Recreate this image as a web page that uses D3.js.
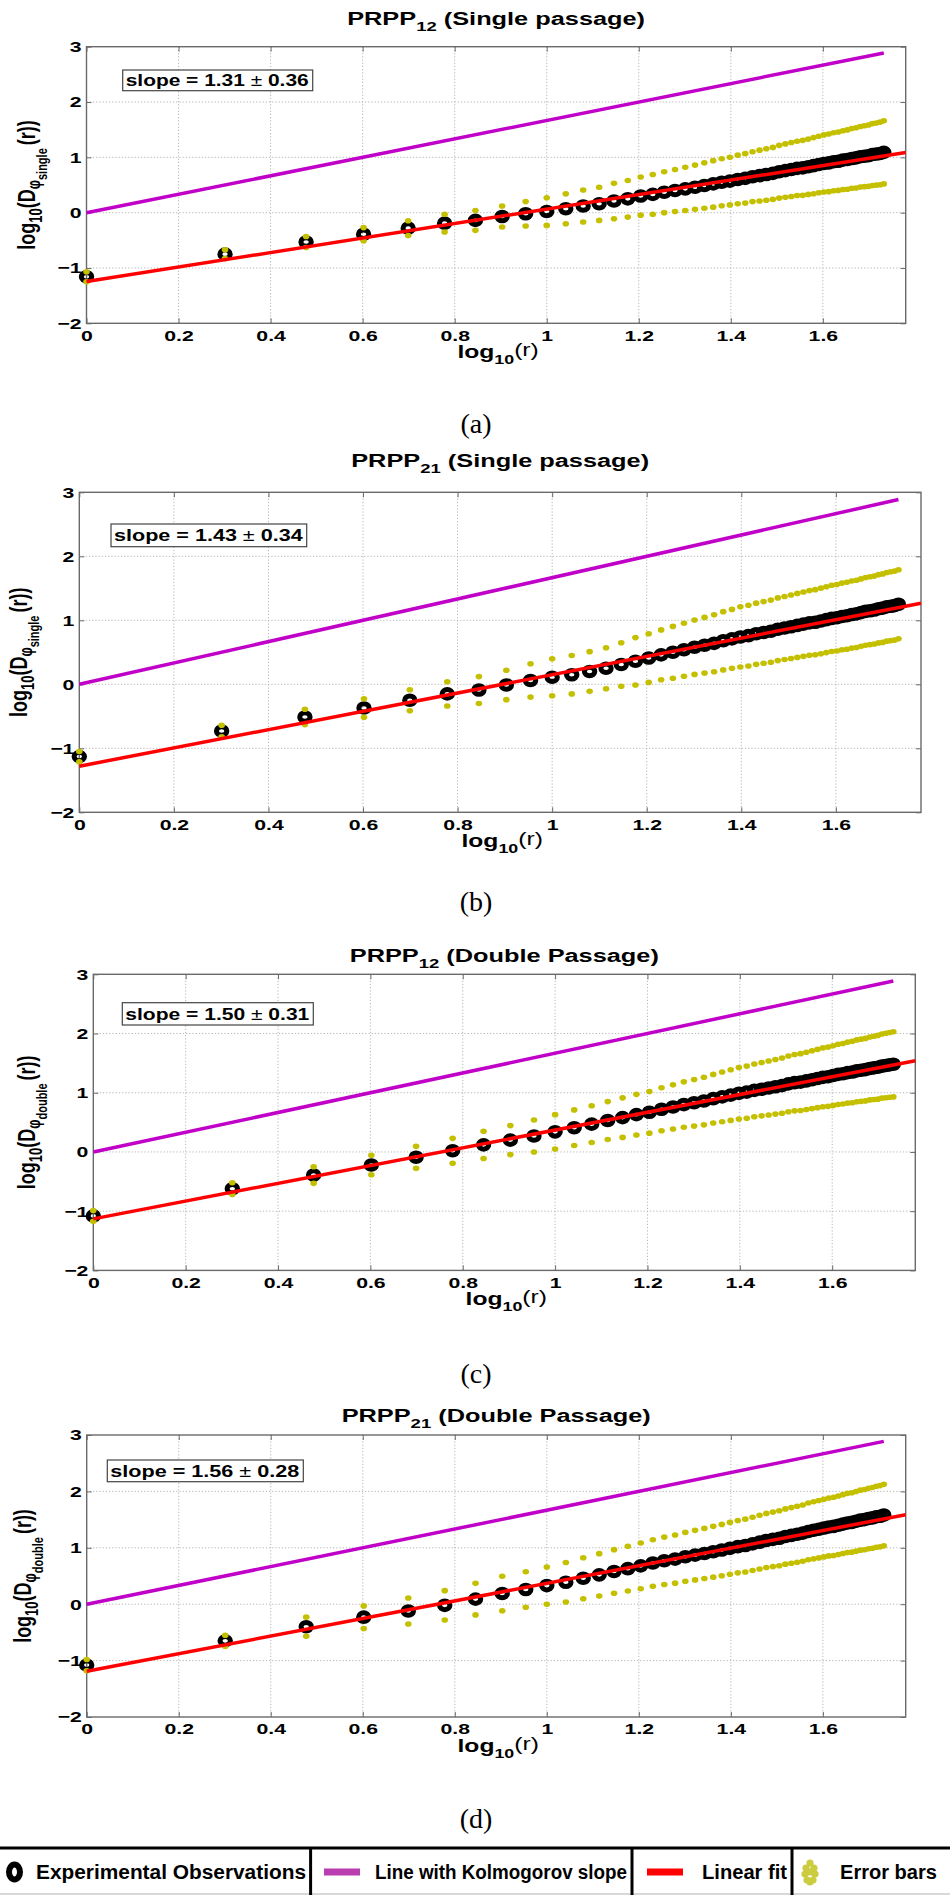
<!DOCTYPE html>
<html>
<head>
<meta charset="utf-8">
<script src="https://cdn.jsdelivr.net/npm/d3@7"></script>
<style>
  body { margin: 0; background: #fff; }
  svg { display: block; }
  text { font-family: "Liberation Sans", Arial, sans-serif; }
</style>
</head>
<body>
<div id="chart"></div>
<script>
// ---------------- data ----------------
// separation r (pixels), plotted as log10(r)
var rValues = d3.range(1, 55);

// panel (a) PRPP12 single passage
var obsA = [-1.16,-0.75,-0.53,-0.39,-0.28,-0.19,-0.14,-0.07,-0.02,0.02,
  0.07,0.12,0.16,0.21,0.25,0.30,0.33,0.37,0.40,0.43,
  0.46,0.49,0.52,0.55,0.57,0.60,0.62,0.65,0.67,0.69,
  0.71,0.74,0.76,0.78,0.80,0.81,0.83,0.85,0.87,0.89,
  0.90,0.92,0.93,0.95,0.96,0.98,0.99,1.01,1.02,1.03,
  1.05,1.06,1.07,1.09];
var errA = [0.09,0.08,0.10,0.12,0.135,0.16,0.18,0.19,0.22,0.25,
  0.27,0.29,0.30,0.32,0.33,0.345,0.36,0.37,0.38,0.39,
  0.40,0.41,0.42,0.425,0.43,0.44,0.447,0.45,0.46,0.466,
  0.47,0.477,0.483,0.487,0.49,0.497,0.50,0.507,0.51,0.516,
  0.52,0.524,0.528,0.532,0.536,0.54,0.544,0.548,0.55,0.555,
  0.56,0.562,0.566,0.57];

// panel (b) PRPP21 single passage
var obsB = [-1.13,-0.73,-0.51,-0.37,-0.25,-0.15,-0.09,-0.01,0.06,0.11,
  0.15,0.20,0.25,0.31,0.36,0.41,0.46,0.50,0.54,0.58,
  0.61,0.64,0.68,0.71,0.74,0.76,0.79,0.81,0.83,0.86,
  0.88,0.90,0.92,0.94,0.96,0.97,0.99,1.01,1.03,1.04,
  1.06,1.07,1.09,1.10,1.12,1.14,1.15,1.16,1.18,1.19,
  1.21,1.22,1.23,1.25];
var errB = [0.08,0.09,0.12,0.145,0.165,0.19,0.21,0.23,0.26,0.29,
  0.30,0.31,0.32,0.34,0.37,0.38,0.39,0.405,0.415,0.425,
  0.435,0.445,0.455,0.46,0.47,0.474,0.478,0.482,0.486,0.49,
  0.493,0.496,0.50,0.503,0.506,0.509,0.512,0.515,0.518,0.52,
  0.521,0.523,0.524,0.526,0.527,0.529,0.53,0.531,0.533,0.535,
  0.536,0.537,0.539,0.54];

// panel (c) PRPP12 double passage
var obsC = [-1.08,-0.62,-0.39,-0.22,-0.09,0.02,0.12,0.20,0.27,0.34,
  0.41,0.47,0.53,0.58,0.63,0.67,0.72,0.76,0.80,0.83,
  0.86,0.90,0.93,0.96,0.99,1.01,1.04,1.06,1.08,1.10,
  1.12,1.15,1.17,1.18,1.20,1.22,1.24,1.26,1.27,1.29,
  1.31,1.32,1.34,1.35,1.37,1.38,1.39,1.41,1.42,1.43,
  1.45,1.46,1.47,1.48];
var errC = [0.09,0.10,0.14,0.165,0.185,0.21,0.23,0.245,0.27,0.29,
  0.30,0.31,0.32,0.334,0.343,0.352,0.363,0.373,0.384,0.393,
  0.402,0.41,0.42,0.427,0.435,0.44,0.446,0.45,0.456,0.461,
  0.466,0.471,0.476,0.48,0.484,0.488,0.492,0.497,0.50,0.504,
  0.508,0.511,0.515,0.518,0.522,0.525,0.528,0.531,0.535,0.538,
  0.541,0.544,0.546,0.55];

// panel (d) PRPP21 double passage
var obsD = [-1.08,-0.65,-0.40,-0.23,-0.12,-0.02,0.09,0.19,0.26,0.33,
  0.39,0.46,0.52,0.58,0.63,0.68,0.73,0.77,0.80,0.84,
  0.87,0.90,0.93,0.96,0.99,1.02,1.04,1.07,1.10,1.13,
  1.15,1.17,1.20,1.22,1.24,1.26,1.29,1.31,1.33,1.35,
  1.37,1.38,1.40,1.42,1.44,1.45,1.47,1.49,1.50,1.52,
  1.53,1.55,1.56,1.58];
var errD = [0.10,0.10,0.17,0.20,0.23,0.26,0.28,0.305,0.315,0.33,
  0.35,0.363,0.376,0.387,0.397,0.406,0.413,0.42,0.427,0.433,
  0.439,0.444,0.45,0.455,0.46,0.464,0.468,0.472,0.476,0.48,
  0.483,0.487,0.49,0.493,0.497,0.50,0.503,0.506,0.509,0.511,
  0.514,0.517,0.519,0.522,0.525,0.527,0.529,0.532,0.534,0.536,
  0.539,0.541,0.543,0.545];

// linear fits and Kolmogorov reference line
var fitIntercepts = [-1.245, -1.28, -1.13, -1.19];
var fitSlopes = [1.31, 1.43, 1.50, 1.56];
var kolmogorovSlope = 5 / 3;

// texts
var titleSubs = ["12", "21", "12", "21"];
var titleRests = [" (Single passage)", " (Single passage)", " (Double Passage)", " (Double Passage)"];
var yLabelSubs = ["single", "single", "double", "double"];
var slopeValues = ["1.31", "1.43", "1.50", "1.56"];
var slopeErrors = ["0.36", "0.34", "0.31", "0.28"];
var captions = ["(a)", "(b)", "(c)", "(d)"];
var legendLabels = ["Experimental Observations", "Line with Kolmogorov slope", "Linear fit", "Error bars"];

var xTicks = [0, 0.2, 0.4, 0.6, 0.8, 1, 1.2, 1.4, 1.6];
var yTicks = [-2, -1, 0, 1, 2, 3];

// ---------------- layout ----------------
var obsSeries = [obsA, obsB, obsC, obsD];
var errSeries = [errA, errB, errC, errD];

var layout = [
  { left: 86.5, right: 905.7, top: 46.7, bottom: 323.3, titleY: 25, yLabelX: 35, captionY: 433, box: [122.7, 70, 190, 20.7] },
  { left: 79.3, right: 921, top: 492.3, bottom: 812.3, titleY: 466.7, yLabelX: 27, captionY: 911, box: [111, 524, 195.7, 22.7] },
  { left: 93.3, right: 915.3, top: 974.3, bottom: 1270.4, titleY: 961.7, yLabelX: 35, captionY: 1383, box: [122.3, 1002.7, 191, 22.3] },
  { left: 86.7, right: 905.7, top: 1435, bottom: 1717, titleY: 1421.7, yLabelX: 31, captionY: 1828, box: [107.3, 1460, 196, 21.7] }
];

var TS = 1.37; // the original figure is stretched horizontally
var MAGENTA = "#c000c8", RED = "#ff0000", YELLOW = "#c4c000";

var svg = d3.select("#chart")
  .append("svg")
  .attr("width", 950)
  .attr("height", 1895);

svg.append("rect").attr("width", 950).attr("height", 1895).attr("fill", "#fff");

layout.forEach(function (p, i) {
  var g = svg.append("g");
  var x = d3.scaleLinear().domain([0, 1.78]).range([p.left, p.right]);
  var y = d3.scaleLinear().domain([-2, 3]).range([p.bottom, p.top]);
  var cx = (p.left + p.right) / 2;

  // grid
  g.append("g").selectAll("line")
    .data(xTicks.slice(1))
    .join("line")
    .attr("x1", function (d) { return x(d); })
    .attr("x2", function (d) { return x(d); })
    .attr("y1", p.top).attr("y2", p.bottom)
    .attr("stroke", "#b4b4b4").attr("stroke-dasharray", "1.2,2");
  g.append("g").selectAll("line")
    .data(yTicks.slice(1, -1))
    .join("line")
    .attr("y1", function (d) { return y(d); })
    .attr("y2", function (d) { return y(d); })
    .attr("x1", p.left).attr("x2", p.right)
    .attr("stroke", "#b4b4b4").attr("stroke-dasharray", "1.2,2");

  // axes (inward ticks on all four sides)
  var bottomAxis = g.append("g")
    .attr("transform", "translate(0," + p.bottom + ")")
    .call(d3.axisBottom(x).tickValues(xTicks).tickSizeInner(-5).tickSizeOuter(0).tickPadding(6.5).tickFormat(d3.format("~g")));
  var leftAxis = g.append("g")
    .attr("transform", "translate(" + p.left + ",0)")
    .call(d3.axisLeft(y).tickValues(yTicks).tickSizeInner(-5).tickSizeOuter(0).tickPadding(3.6).tickFormat(d3.format("~g")));
  g.append("g")
    .attr("transform", "translate(0," + p.top + ")")
    .call(d3.axisTop(x).tickValues(xTicks).tickSizeInner(-5).tickSizeOuter(0).tickFormat(""));
  g.append("g")
    .attr("transform", "translate(" + p.right + ",0)")
    .call(d3.axisRight(y).tickValues(yTicks).tickSizeInner(-5).tickSizeOuter(0).tickFormat(""));
  g.selectAll(".domain").remove();
  g.selectAll(".tick line").attr("stroke", "#6a6a6a");
  [bottomAxis, leftAxis].forEach(function (ax) {
    ax.selectAll("text")
      .attr("fill", "#000")
      .style("font-size", "15.5px")
      .style("font-weight", "bold")
      .style("font-family", "'Liberation Sans', Arial, sans-serif")
      .attr("transform", "scale(" + TS + ",1)");
  });

  g.append("rect")
    .attr("x", p.left).attr("y", p.top)
    .attr("width", p.right - p.left).attr("height", p.bottom - p.top)
    .attr("fill", "none").attr("stroke", "#6a6a6a").attr("stroke-width", 1.4);

  // observations (rings)
  var obs = obsSeries[i], err = errSeries[i];
  g.append("g").selectAll("ellipse")
    .data(rValues)
    .join("ellipse")
    .attr("cx", function (r) { return x(Math.log10(r)); })
    .attr("cy", function (r, k) { return y(obs[k]); })
    .attr("rx", 5.2).attr("ry", 4.3)
    .attr("fill", "none").attr("stroke", "#000").attr("stroke-width", 5);

  // error bars (upper and lower dots)
  var errG = g.append("g").attr("fill", YELLOW);
  [1, -1].forEach(function (sgn) {
    errG.append("g").selectAll("ellipse")
      .data(rValues)
      .join("ellipse")
      .attr("cx", function (r) { return x(Math.log10(r)); })
      .attr("cy", function (r, k) { return y(obs[k] + sgn * err[k]); })
      .attr("rx", 3.3).attr("ry", 2.8);
  });

  // Kolmogorov line
  var xEnd = Math.log10(rValues[rValues.length - 1]);
  g.append("line")
    .attr("x1", x(0)).attr("y1", y(0))
    .attr("x2", x(xEnd)).attr("y2", y(kolmogorovSlope * xEnd))
    .attr("stroke", MAGENTA).attr("stroke-width", 3.5);

  // linear fit
  g.append("line")
    .attr("x1", x(0)).attr("y1", y(fitIntercepts[i]))
    .attr("x2", x(1.78)).attr("y2", y(fitIntercepts[i] + fitSlopes[i] * 1.78))
    .attr("stroke", RED).attr("stroke-width", 3.5);

  // title
  var t = g.append("text")
    .attr("transform", "translate(" + cx + "," + p.titleY + ") scale(" + TS + ",1)")
    .attr("text-anchor", "middle")
    .style("font-size", "18.5px").style("font-weight", "bold");
  t.append("tspan").text("PRPP");
  t.append("tspan").attr("dy", 6).style("font-size", "13.5px").text(titleSubs[i]);
  t.append("tspan").attr("dy", -6).text(titleRests[i]);

  // x label
  var xl = g.append("text")
    .attr("transform", "translate(" + (cx + 2) + "," + (p.bottom + 34.5) + ") scale(" + TS + ",1)")
    .attr("text-anchor", "middle")
    .style("font-size", "18px").style("font-weight", "bold");
  xl.append("tspan").text("log");
  xl.append("tspan").attr("dy", 6).style("font-size", "13px").text("10");
  xl.append("tspan").attr("dy", -8).style("font-weight", "normal").text("(r)");

  // y label
  var yl = g.append("text")
    .attr("transform", "translate(" + p.yLabelX + "," + ((p.top + p.bottom) / 2) + ") scale(" + TS + ",1) rotate(-90)")
    .attr("text-anchor", "middle")
    .style("font-size", "18px").style("font-weight", "bold");
  yl.append("tspan").text("log");
  yl.append("tspan").attr("dy", 5).style("font-size", "13px").text("10");
  yl.append("tspan").attr("dy", -5).text("(D");
  yl.append("tspan").attr("dy", 4).style("font-size", "13px").text("\u03C6");
  yl.append("tspan").attr("dy", 5).style("font-size", "11px").text(yLabelSubs[i]);
  yl.append("tspan").attr("dy", -9).attr("dx", 3).text("(r))");

  // slope box
  var b = p.box;
  g.append("rect")
    .attr("x", b[0]).attr("y", b[1]).attr("width", b[2]).attr("height", b[3])
    .attr("fill", "#fff").attr("stroke", "#444").attr("stroke-width", 1.2);
  var st = g.append("text")
    .attr("x", b[0] + 3).attr("y", b[1] + b[3] / 2 + 6)
    .attr("textLength", b[2] - 7).attr("lengthAdjust", "spacingAndGlyphs")
    .style("font-size", "16.5px").style("font-weight", "bold");
  st.append("tspan").text("slope = " + slopeValues[i] + " ");
  st.append("tspan").style("font-weight", "normal").text("\u00B1");
  st.append("tspan").text(" " + slopeErrors[i]);

  // caption
  svg.append("text")
    .attr("x", 476).attr("y", p.captionY)
    .attr("text-anchor", "middle")
    .style("font-family", "'Liberation Serif', 'Times New Roman', serif")
    .style("font-size", "28px")
    .text(captions[i]);
});

// ---------------- legend ----------------
var lg = svg.append("g");
var legY = 1872;
lg.append("line").attr("x1", 0).attr("x2", 950).attr("y1", 1848).attr("y2", 1848)
  .attr("stroke", "#000").attr("stroke-width", 3);
lg.append("line").attr("x1", 0).attr("x2", 950).attr("y1", 1894).attr("y2", 1894)
  .attr("stroke", "#d8d8d8").attr("stroke-width", 2);
lg.selectAll("line.sep")
  .data([310.6, 632, 792])
  .join("line")
  .attr("class", "sep")
  .attr("x1", function (d) { return d; }).attr("x2", function (d) { return d; })
  .attr("y1", 1848).attr("y2", 1895)
  .attr("stroke", "#000").attr("stroke-width", 3);

lg.append("ellipse").attr("cx", 14.5).attr("cy", legY).attr("rx", 5.5).attr("ry", 7.5)
  .attr("fill", "#fff").attr("stroke", "#000").attr("stroke-width", 6);
lg.append("rect").attr("x", 324).attr("y", legY - 3.5).attr("width", 36).attr("height", 7).attr("fill", "#b93cb0");
lg.append("rect").attr("x", 647).attr("y", legY - 3.5).attr("width", 36).attr("height", 7).attr("fill", RED);
lg.append("g").attr("fill", "#cccc40").selectAll("circle")
  .data([[0, -9], [-4, -4], [4, -4], [-5, 2], [5, 2], [-3, 8], [3, 8], [0, 0], [0, 10]])
  .join("circle")
  .attr("cx", function (d) { return 810 + d[0]; })
  .attr("cy", function (d) { return legY + d[1]; })
  .attr("r", 3.6);

var legendPos = [[36, 270], [375, 252], [702, 85], [840, 97]];
lg.selectAll("text")
  .data(legendLabels)
  .join("text")
  .attr("x", function (d, k) { return legendPos[k][0]; })
  .attr("y", legY + 7)
  .attr("textLength", function (d, k) { return legendPos[k][1]; })
  .attr("lengthAdjust", "spacingAndGlyphs")
  .style("font-family", "'Liberation Sans Narrow', 'Arial Narrow', 'Liberation Sans', sans-serif")
  .style("font-size", "20px")
  .style("font-weight", "bold")
  .text(function (d) { return d; });
</script>
</body>
</html>
